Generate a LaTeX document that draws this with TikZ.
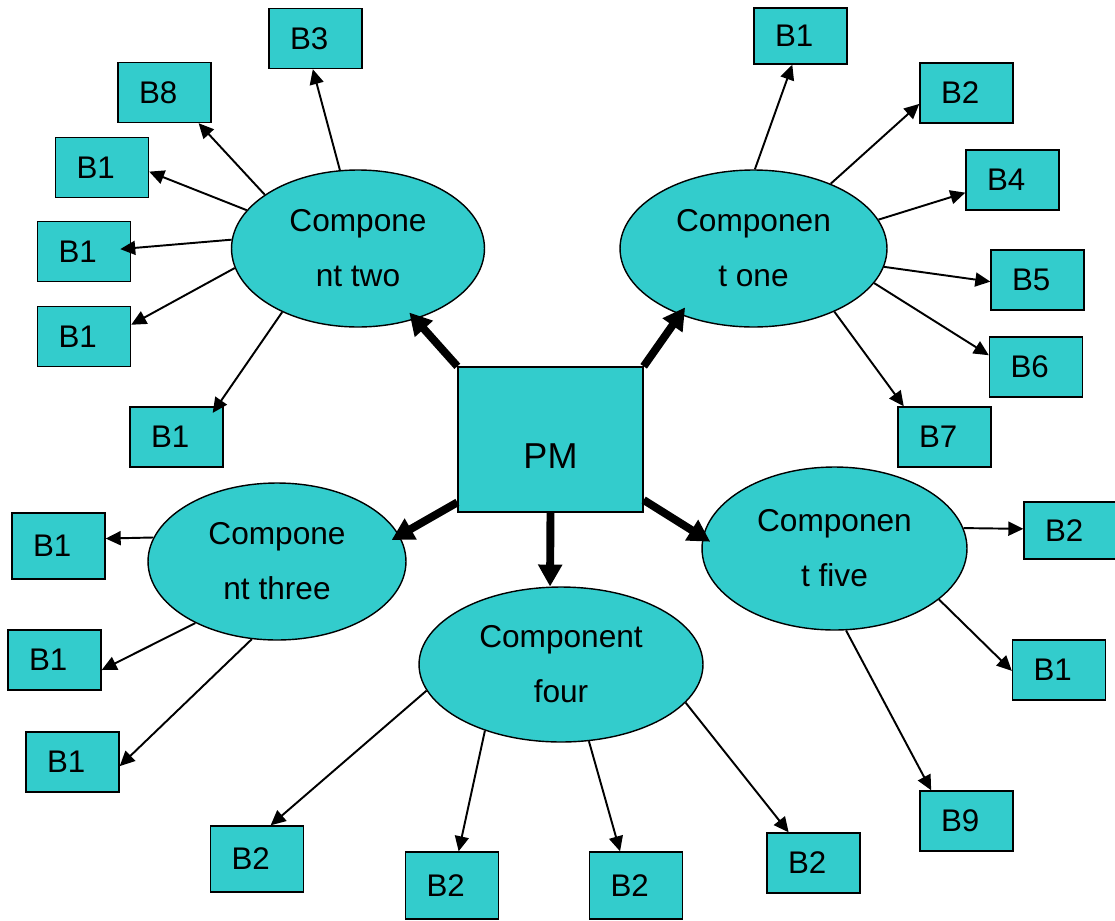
\documentclass[tikz,border=0pt]{standalone}
\usepackage{fontspec}
\setmainfont{Liberation Sans}
\usepackage{tikz}
\usetikzlibrary{arrows.meta, shapes.geometric, positioning}
\definecolor{cyanfill}{HTML}{33CCCC}

\begin{document}
\begin{tikzpicture}[x=.02cm,y=-.02cm,
      comp/.style={draw, ellipse, fill=cyanfill, line width=.8pt, inner sep=0pt,
         minimum height=3.14cm, align=center, font=\fontsize{18}{31.2}\selectfont},
      pmbox/.style={draw, rectangle, fill=cyanfill, line width=.8pt, minimum width=3.7cm,
         minimum height=2.9cm, text height=1.34cm, text depth=.2cm, font=\fontsize{20.5}{24}\selectfont},
      arr/.style={-{Triangle[length=.3cm,width=.28cm]}, line width=1.1pt},
      bigarr/.style={-{Triangle[length=.44cm,width=.46cm]}, line width=4.5pt, shorten >=-.18cm}]
  \useasboundingbox (0,0) rectangle (1115,920);

  \tikzstyle{leaf} = [draw, rectangle, fill=cyanfill, line width=.8pt, minimum width=1.86cm,
     minimum height=1.2cm, text width=1.02cm, inner xsep=.42cm, inner ysep=0pt, align=left,
     font=\fontsize{17.8}{20}\selectfont]

  \node [pmbox] at (550.5,439.5) (pm) {PM};

  \node [comp, minimum width=5.06cm] at (358,248.5) (comp2) {Compone\\nt two};
  \node [comp, minimum width=5.34cm] at (753.5,248.5) (comp1) {Componen\\t one};
  \node [comp, minimum width=5.16cm] at (277,561.5) (comp3) {Compone\\nt three};
  \node [comp, minimum width=5.68cm, minimum height=3.1cm] at (561,664.5) (comp4) {Component\\four};
  \node [comp, minimum width=5.3cm, minimum height=3.26cm] at (834.5,548.5) (comp5) {Componen\\t five};

  \node [leaf] at (315.5,38.5) (two3) {B3};
  \node [leaf] at (164.5,92.5) (two8) {B8};
  \node [leaf] at (102,167.5) (two1a) {B1};
  \node [leaf] at (84,251.5) (two1b) {B1};
  \node [leaf] at (84,336.5) (two1c) {B1};
  \node [leaf] at (176.5,437) (two1d) {B1};

  \node [leaf, minimum height=1.12cm] at (800.5,36) (one1) {B1};
  \node [leaf] at (966.5,93) (one2) {B2};
  \node [leaf] at (1012.5,180) (one4) {B4};
  \node [leaf] at (1037.5,280) (one5) {B5};
  \node [leaf] at (1036,367) (one6) {B6};
  \node [leaf] at (944.5,437) (one7) {B7};

  \node [leaf, minimum height=1.32cm] at (58.5,546) (three1a) {B1};
  \node [leaf] at (54.5,660) (three1b) {B1};
  \node [leaf] at (72.5,762) (three1c) {B1};

  \node [leaf, minimum height=1.32cm] at (257,859) (four2a) {B2};
  \node [leaf, minimum height=1.34cm] at (452,885.5) (four2b) {B2};
  \node [leaf, minimum height=1.34cm] at (636,885.5) (four2c) {B2};
  \node [leaf] at (813.5,863) (four2d) {B2};

  \node [leaf, minimum height=1.14cm] at (1070.5,530.5) (five2) {B2};
  \node [leaf] at (1059,670) (five1) {B1};
  \node [leaf] at (966.5,821) (five9) {B9};

  \draw [bigarr] (pm.north west) -- (comp2.-51);
  \draw [bigarr] (pm.north east) -- (comp1.222);
  \draw [bigarr] (pm.214) -- (comp3.12);
  \draw [bigarr, shorten >=0pt] (pm.south) -- (comp4.98);
  \draw [bigarr] (pm.-33) -- (comp5.175);

  \draw [arr] (comp2.103) -- (two3.265);
  \draw [arr] (comp2.150) -- (two8.-42);
  \draw [arr] (comp2.161) -- (two1a.-5);
  \draw [arr, shorten >=-.22cm] (comp2.176) -- (two1b.4);
  \draw [arr] (comp2.-171) -- (two1c.14);
  \draw [arr, shorten >=-.16cm] (comp2.220) -- (two1d.37);

  \draw [arr] (comp1.89) -- (one1.254);
  \draw [arr] (comp1.40) -- (one2.193);
  \draw [arr] (comp1.13) -- (one4.195);
  \draw [arr] (comp1.-8) -- (one5.182);
  \draw [arr] (comp1.-16) -- (one6.166);
  \draw [arr] (comp1.-38) -- (one7.143);

  \draw [arr] (comp3.169) -- (three1a.9);
  \draw [arr] (comp3.217) -- (three1b.-12);
  \draw [arr] (comp3.252) -- (three1c.-5);

  \draw [arr] (comp4.191) -- (four2a.68);
  \draw [arr] (comp4.221) -- (four2b.79);
  \draw [arr] (comp4.-70) -- (four2c.115);
  \draw [arr] (comp4.-17) -- (four2d.129);

  \draw [arr] (comp5.9) -- (five2.178);
  \draw [arr] (comp5.-26) -- (five1.181);
  \draw [arr] (comp5.-82) -- (five9.139);
\end{tikzpicture}
\end{document}
